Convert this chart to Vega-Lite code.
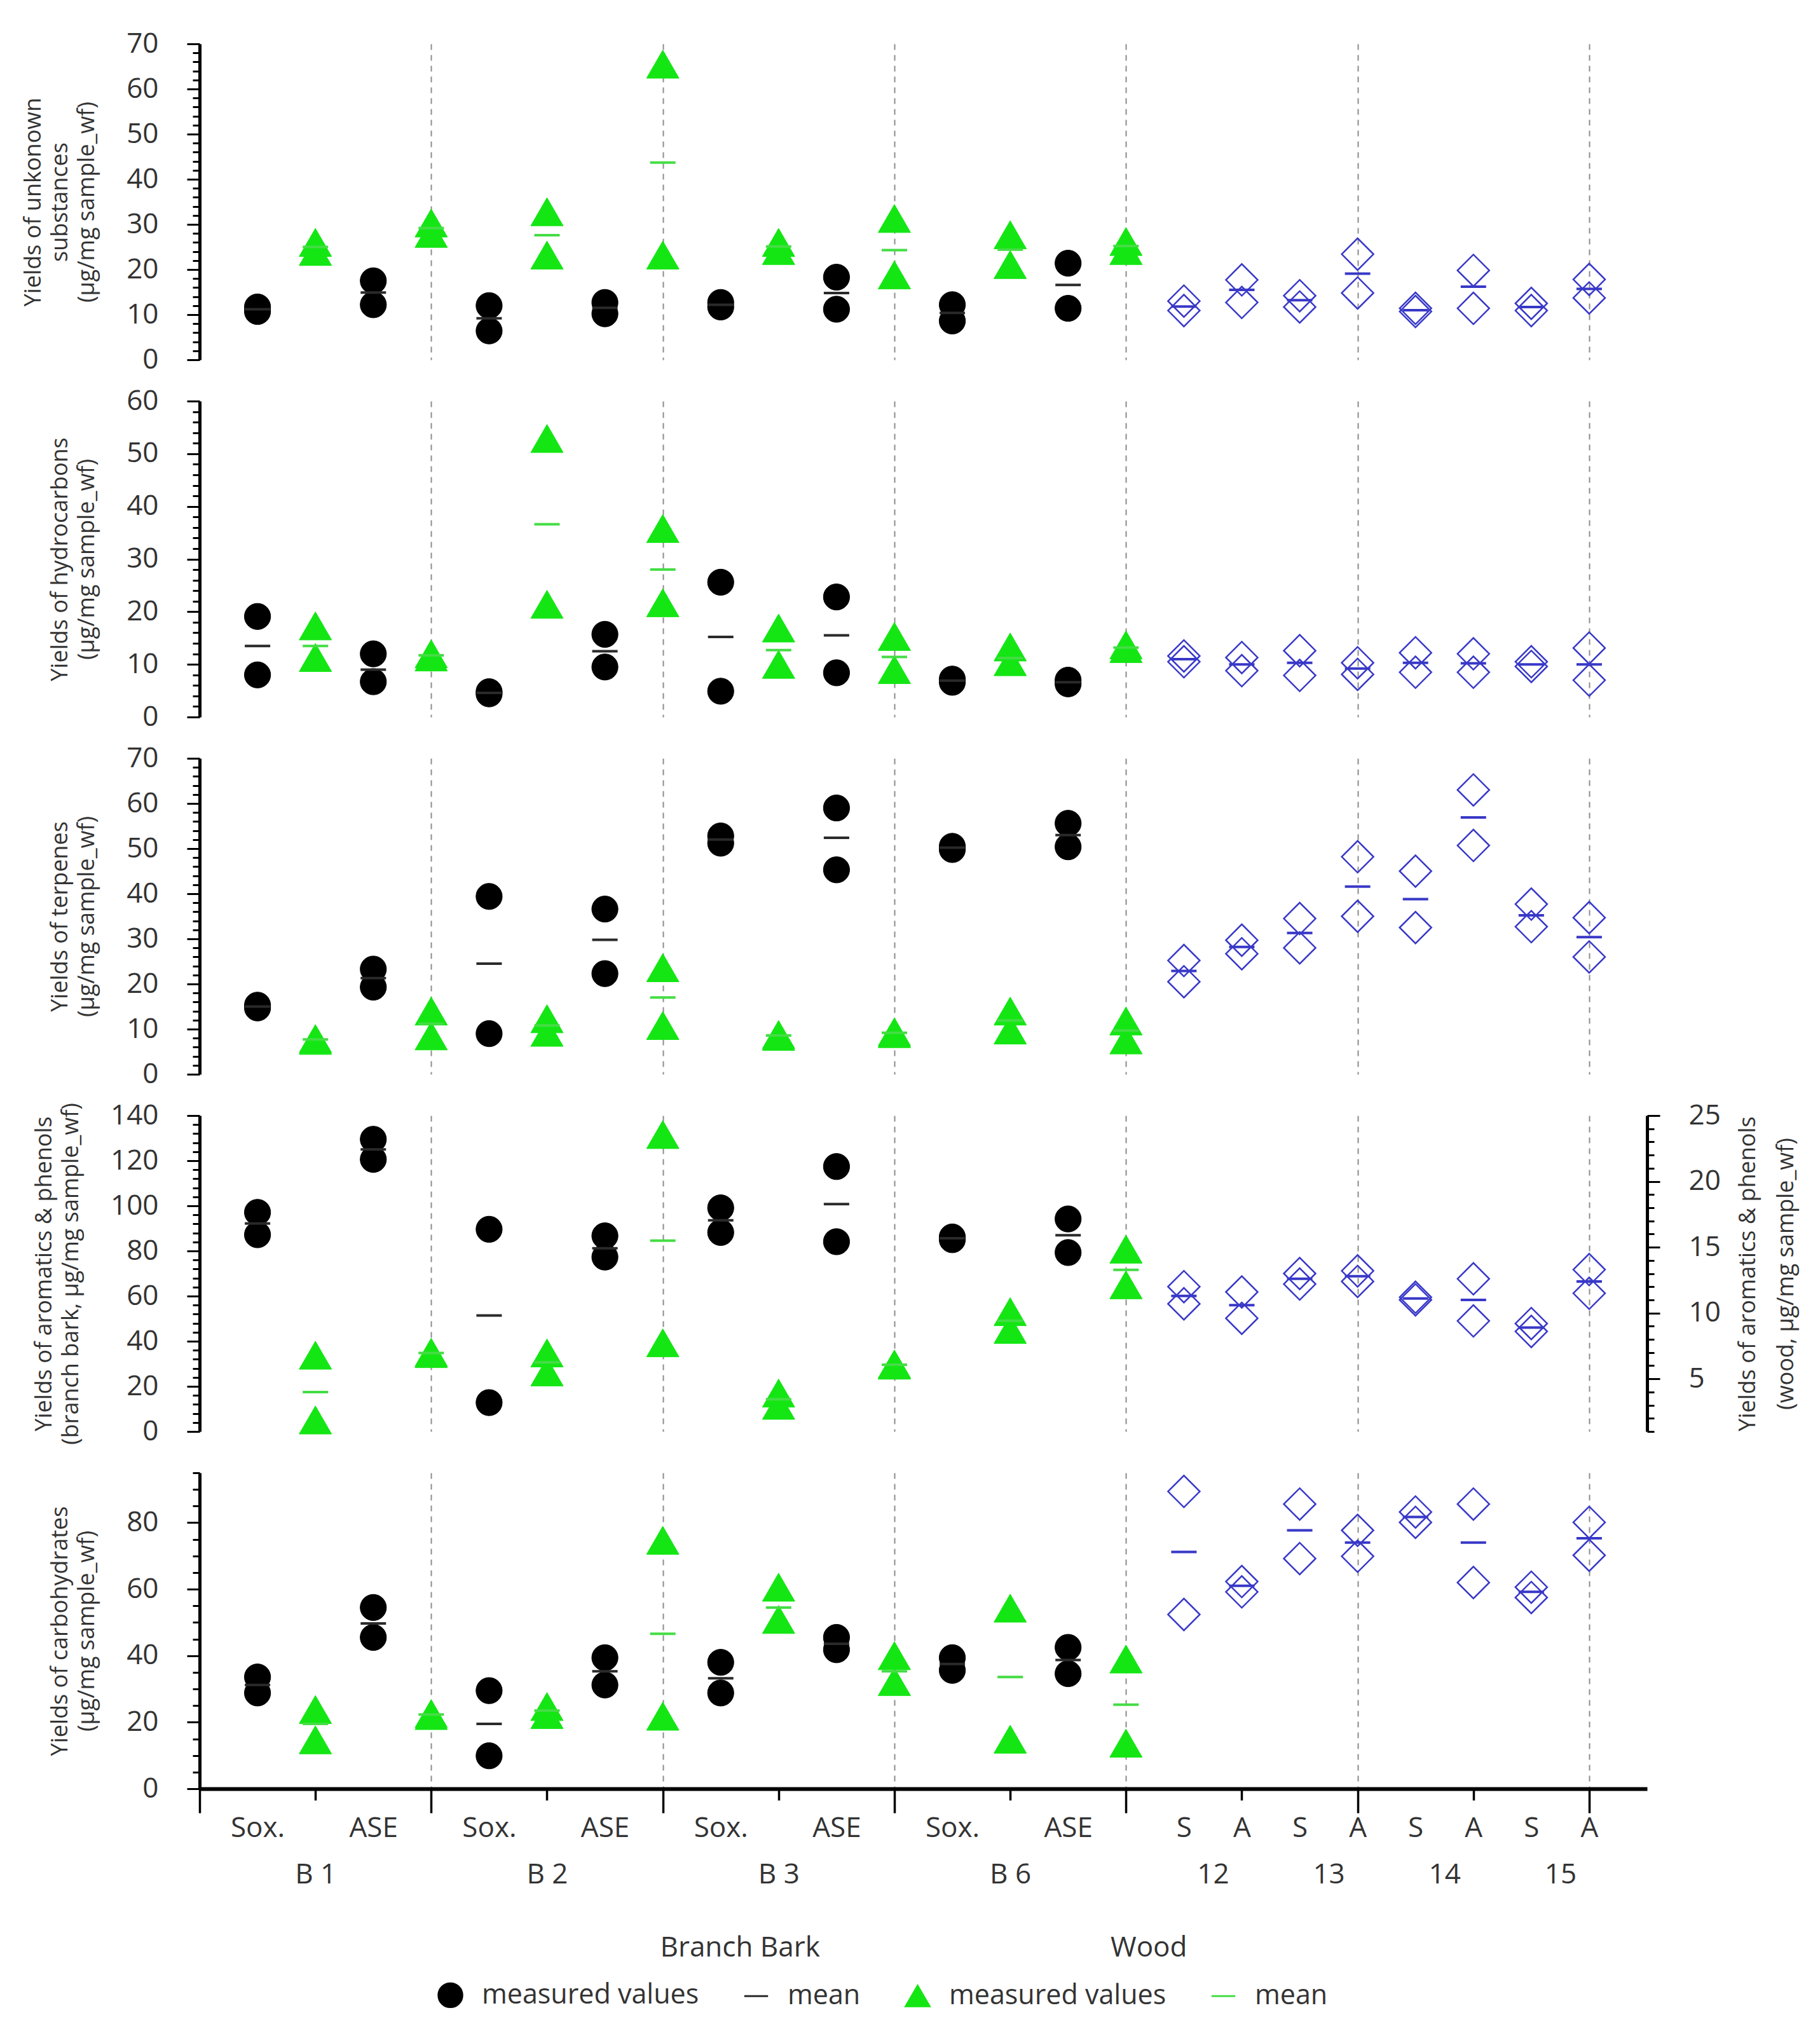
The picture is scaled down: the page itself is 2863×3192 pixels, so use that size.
{
"$schema":"https://vega.github.io/schema/vega-lite/v6.json",
"background":"#ffffff",
"padding":{"left":34,"top":47,"right":20,"bottom":20},
"bounds":"flush",
"spacing":65,
"data":{"values":[
{"p":"U","x":1,"s":"a","v":11.7},{"p":"U","x":1,"s":"a","v":10.7},{"p":"U","x":1,"s":"b","v":11.2},
{"p":"U","x":2,"s":"c","v":26},{"p":"U","x":2,"s":"c","v":24},{"p":"U","x":2,"s":"d","v":25},
{"p":"U","x":3,"s":"a","v":17.5},{"p":"U","x":3,"s":"a","v":12.2},{"p":"U","x":3,"s":"b","v":14.9},
{"p":"U","x":4,"s":"c","v":30.3},{"p":"U","x":4,"s":"c","v":28},{"p":"U","x":4,"s":"d","v":29.2},
{"p":"U","x":5,"s":"a","v":12},{"p":"U","x":5,"s":"a","v":6.4},{"p":"U","x":5,"s":"b","v":9.2},
{"p":"U","x":6,"s":"c","v":32.8},{"p":"U","x":6,"s":"c","v":23.2},{"p":"U","x":6,"s":"d","v":27.6},
{"p":"U","x":7,"s":"a","v":12.7},{"p":"U","x":7,"s":"a","v":10.2},{"p":"U","x":7,"s":"b","v":11.5},
{"p":"U","x":8,"s":"c","v":65.5},{"p":"U","x":8,"s":"c","v":23.2},{"p":"U","x":8,"s":"d","v":43.7},
{"p":"U","x":9,"s":"a","v":12.7},{"p":"U","x":9,"s":"a","v":11.7},{"p":"U","x":9,"s":"b","v":12.2},
{"p":"U","x":10,"s":"c","v":26},{"p":"U","x":10,"s":"c","v":24.2},{"p":"U","x":10,"s":"d","v":25.1},
{"p":"U","x":11,"s":"a","v":18.3},{"p":"U","x":11,"s":"a","v":11.2},{"p":"U","x":11,"s":"b","v":14.8},
{"p":"U","x":12,"s":"c","v":31.3},{"p":"U","x":12,"s":"c","v":18.8},{"p":"U","x":12,"s":"d","v":24.3},
{"p":"U","x":13,"s":"a","v":12.2},{"p":"U","x":13,"s":"a","v":8.6},{"p":"U","x":13,"s":"b","v":10.4},
{"p":"U","x":14,"s":"c","v":27.7},{"p":"U","x":14,"s":"c","v":21.1},{"p":"U","x":14,"s":"d","v":24.4},
{"p":"U","x":15,"s":"a","v":21.4},{"p":"U","x":15,"s":"a","v":11.4},{"p":"U","x":15,"s":"b","v":16.6},
{"p":"U","x":16,"s":"c","v":26.2},{"p":"U","x":16,"s":"c","v":24.2},{"p":"U","x":16,"s":"d","v":25.2},
{"p":"U","x":17,"s":"w","v":13},{"p":"U","x":17,"s":"w","v":10.9},{"p":"U","x":17,"s":"m","v":11.8},
{"p":"U","x":18,"s":"w","v":17.7},{"p":"U","x":18,"s":"w","v":12.7},{"p":"U","x":18,"s":"m","v":15.5},
{"p":"U","x":19,"s":"w","v":14.2},{"p":"U","x":19,"s":"w","v":11.7},{"p":"U","x":19,"s":"m","v":13.2},
{"p":"U","x":20,"s":"w","v":23.4},{"p":"U","x":20,"s":"w","v":14.8},{"p":"U","x":20,"s":"m","v":19.1},
{"p":"U","x":21,"s":"w","v":11.4},{"p":"U","x":21,"s":"w","v":10.7},{"p":"U","x":21,"s":"m","v":11},
{"p":"U","x":22,"s":"w","v":19.8},{"p":"U","x":22,"s":"w","v":11.4},{"p":"U","x":22,"s":"m","v":16.2},
{"p":"U","x":23,"s":"w","v":12.5},{"p":"U","x":23,"s":"w","v":10.9},{"p":"U","x":23,"s":"m","v":11.7},
{"p":"U","x":24,"s":"w","v":17.8},{"p":"U","x":24,"s":"w","v":13.7},{"p":"U","x":24,"s":"m","v":15.7},

{"p":"H","x":1,"s":"a","v":19.1},{"p":"H","x":1,"s":"a","v":8},{"p":"H","x":1,"s":"b","v":13.5},
{"p":"H","x":2,"s":"c","v":17.3},{"p":"H","x":2,"s":"c","v":11.3},{"p":"H","x":2,"s":"d","v":13.5},
{"p":"H","x":3,"s":"a","v":12},{"p":"H","x":3,"s":"a","v":6.7},{"p":"H","x":3,"s":"b","v":9},
{"p":"H","x":4,"s":"c","v":12},{"p":"H","x":4,"s":"c","v":11.4},{"p":"H","x":4,"s":"d","v":11.7},
{"p":"H","x":5,"s":"a","v":4.8},{"p":"H","x":5,"s":"a","v":4.4},{"p":"H","x":5,"s":"b","v":4.6},
{"p":"H","x":6,"s":"c","v":52.9},{"p":"H","x":6,"s":"c","v":21.4},{"p":"H","x":6,"s":"d","v":36.6},
{"p":"H","x":7,"s":"a","v":15.7},{"p":"H","x":7,"s":"a","v":9.5},{"p":"H","x":7,"s":"b","v":12.5},
{"p":"H","x":8,"s":"c","v":35.8},{"p":"H","x":8,"s":"c","v":21.7},{"p":"H","x":8,"s":"d","v":28},
{"p":"H","x":9,"s":"a","v":25.6},{"p":"H","x":9,"s":"a","v":4.9},{"p":"H","x":9,"s":"b","v":15.2},
{"p":"H","x":10,"s":"c","v":16.9},{"p":"H","x":10,"s":"c","v":10},{"p":"H","x":10,"s":"d","v":12.7},
{"p":"H","x":11,"s":"a","v":22.8},{"p":"H","x":11,"s":"a","v":8.4},{"p":"H","x":11,"s":"b","v":15.5},
{"p":"H","x":12,"s":"c","v":15.3},{"p":"H","x":12,"s":"c","v":9},{"p":"H","x":12,"s":"d","v":11.4},
{"p":"H","x":13,"s":"a","v":7.2},{"p":"H","x":13,"s":"a","v":6.6},{"p":"H","x":13,"s":"b","v":6.9},
{"p":"H","x":14,"s":"c","v":13.3},{"p":"H","x":14,"s":"c","v":10.5},{"p":"H","x":14,"s":"d","v":11.2},
{"p":"H","x":15,"s":"a","v":7},{"p":"H","x":15,"s":"a","v":6.3},{"p":"H","x":15,"s":"b","v":6.6},
{"p":"H","x":16,"s":"c","v":13.7},{"p":"H","x":16,"s":"c","v":13},{"p":"H","x":16,"s":"d","v":13.2},
{"p":"H","x":17,"s":"w","v":11.6},{"p":"H","x":17,"s":"w","v":10.5},{"p":"H","x":17,"s":"m","v":11},
{"p":"H","x":18,"s":"w","v":11.3},{"p":"H","x":18,"s":"w","v":8.8},{"p":"H","x":18,"s":"m","v":10},
{"p":"H","x":19,"s":"w","v":12.6},{"p":"H","x":19,"s":"w","v":7.9},{"p":"H","x":19,"s":"m","v":10.3},
{"p":"H","x":20,"s":"w","v":10.3},{"p":"H","x":20,"s":"w","v":8.1},{"p":"H","x":20,"s":"m","v":9.2},
{"p":"H","x":21,"s":"w","v":12.2},{"p":"H","x":21,"s":"w","v":8.5},{"p":"H","x":21,"s":"m","v":10.3},
{"p":"H","x":22,"s":"w","v":12},{"p":"H","x":22,"s":"w","v":8.5},{"p":"H","x":22,"s":"m","v":10.2},
{"p":"H","x":23,"s":"w","v":10.5},{"p":"H","x":23,"s":"w","v":9.6},{"p":"H","x":23,"s":"m","v":10},
{"p":"H","x":24,"s":"w","v":13.1},{"p":"H","x":24,"s":"w","v":7},{"p":"H","x":24,"s":"m","v":10},

{"p":"T","x":1,"s":"a","v":15.3},{"p":"T","x":1,"s":"a","v":14.7},{"p":"T","x":1,"s":"b","v":15},
{"p":"T","x":2,"s":"c","v":7.9},{"p":"T","x":2,"s":"c","v":7.5},{"p":"T","x":2,"s":"d","v":7.7},
{"p":"T","x":3,"s":"a","v":23.3},{"p":"T","x":3,"s":"a","v":19.3},{"p":"T","x":3,"s":"b","v":21.3},
{"p":"T","x":4,"s":"c","v":14},{"p":"T","x":4,"s":"c","v":8.5},{"p":"T","x":4,"s":"d","v":11.2},
{"p":"T","x":5,"s":"a","v":39.4},{"p":"T","x":5,"s":"a","v":9},{"p":"T","x":5,"s":"b","v":24.5},
{"p":"T","x":6,"s":"c","v":12.3},{"p":"T","x":6,"s":"c","v":9.3},{"p":"T","x":6,"s":"d","v":10.8},
{"p":"T","x":7,"s":"a","v":36.6},{"p":"T","x":7,"s":"a","v":22.3},{"p":"T","x":7,"s":"b","v":29.8},
{"p":"T","x":8,"s":"c","v":23.6},{"p":"T","x":8,"s":"c","v":10.8},{"p":"T","x":8,"s":"d","v":17},
{"p":"T","x":9,"s":"a","v":52.8},{"p":"T","x":9,"s":"a","v":51.2},{"p":"T","x":9,"s":"b","v":52},
{"p":"T","x":10,"s":"c","v":8.8},{"p":"T","x":10,"s":"c","v":8.4},{"p":"T","x":10,"s":"d","v":8.6},
{"p":"T","x":11,"s":"a","v":59},{"p":"T","x":11,"s":"a","v":45.3},{"p":"T","x":11,"s":"b","v":52.4},
{"p":"T","x":12,"s":"c","v":9.4},{"p":"T","x":12,"s":"c","v":9},{"p":"T","x":12,"s":"d","v":9.2},
{"p":"T","x":13,"s":"a","v":50.5},{"p":"T","x":13,"s":"a","v":49.8},{"p":"T","x":13,"s":"b","v":50.2},
{"p":"T","x":14,"s":"c","v":14},{"p":"T","x":14,"s":"c","v":9.8},{"p":"T","x":14,"s":"d","v":11.9},
{"p":"T","x":15,"s":"a","v":55.6},{"p":"T","x":15,"s":"a","v":50.4},{"p":"T","x":15,"s":"b","v":53},
{"p":"T","x":16,"s":"c","v":11.8},{"p":"T","x":16,"s":"c","v":7.6},{"p":"T","x":16,"s":"d","v":9.7},
{"p":"T","x":17,"s":"w","v":25.2},{"p":"T","x":17,"s":"w","v":20.5},{"p":"T","x":17,"s":"m","v":22.9},
{"p":"T","x":18,"s":"w","v":29.7},{"p":"T","x":18,"s":"w","v":26.7},{"p":"T","x":18,"s":"m","v":28.2},
{"p":"T","x":19,"s":"w","v":34.5},{"p":"T","x":19,"s":"w","v":28},{"p":"T","x":19,"s":"m","v":31.3},
{"p":"T","x":20,"s":"w","v":48.2},{"p":"T","x":20,"s":"w","v":35},{"p":"T","x":20,"s":"m","v":41.6},
{"p":"T","x":21,"s":"w","v":45},{"p":"T","x":21,"s":"w","v":32.5},{"p":"T","x":21,"s":"m","v":38.8},
{"p":"T","x":22,"s":"w","v":63},{"p":"T","x":22,"s":"w","v":50.7},{"p":"T","x":22,"s":"m","v":56.9},
{"p":"T","x":23,"s":"w","v":37.7},{"p":"T","x":23,"s":"w","v":32.7},{"p":"T","x":23,"s":"m","v":35.2},
{"p":"T","x":24,"s":"w","v":34.7},{"p":"T","x":24,"s":"w","v":26},{"p":"T","x":24,"s":"m","v":30.4},

{"p":"A","x":1,"s":"a","v":97.1},{"p":"A","x":1,"s":"a","v":87.2},{"p":"A","x":1,"s":"b","v":92.2},
{"p":"A","x":2,"s":"c","v":33.8},{"p":"A","x":2,"s":"c","v":5.1},{"p":"A","x":2,"s":"d","v":17.5},
{"p":"A","x":3,"s":"a","v":129.5},{"p":"A","x":3,"s":"a","v":120.6},{"p":"A","x":3,"s":"b","v":125},
{"p":"A","x":4,"s":"c","v":35.1},{"p":"A","x":4,"s":"c","v":34.5},{"p":"A","x":4,"s":"d","v":34.8},
{"p":"A","x":5,"s":"a","v":89.6},{"p":"A","x":5,"s":"a","v":12.8},{"p":"A","x":5,"s":"b","v":51.4},
{"p":"A","x":6,"s":"c","v":34.8},{"p":"A","x":6,"s":"c","v":26.4},{"p":"A","x":6,"s":"d","v":30.6},
{"p":"A","x":7,"s":"a","v":86.7},{"p":"A","x":7,"s":"a","v":77.3},{"p":"A","x":7,"s":"b","v":81.2},
{"p":"A","x":8,"s":"c","v":131.6},{"p":"A","x":8,"s":"c","v":39.3},{"p":"A","x":8,"s":"d","v":84.6},
{"p":"A","x":9,"s":"a","v":99.1},{"p":"A","x":9,"s":"a","v":88.2},{"p":"A","x":9,"s":"b","v":93.6},
{"p":"A","x":10,"s":"c","v":17},{"p":"A","x":10,"s":"c","v":11.6},{"p":"A","x":10,"s":"d","v":14.3},
{"p":"A","x":11,"s":"a","v":117.4},{"p":"A","x":11,"s":"a","v":84.1},{"p":"A","x":11,"s":"b","v":100.8},
{"p":"A","x":12,"s":"c","v":29.9},{"p":"A","x":12,"s":"c","v":29.4},{"p":"A","x":12,"s":"d","v":29.6},
{"p":"A","x":13,"s":"a","v":86.2},{"p":"A","x":13,"s":"a","v":85},{"p":"A","x":13,"s":"b","v":85.6},
{"p":"A","x":14,"s":"c","v":53.1},{"p":"A","x":14,"s":"c","v":45.2},{"p":"A","x":14,"s":"d","v":49.1},
{"p":"A","x":15,"s":"a","v":94.2},{"p":"A","x":15,"s":"a","v":79.3},{"p":"A","x":15,"s":"b","v":87},
{"p":"A","x":16,"s":"c","v":80.8},{"p":"A","x":16,"s":"c","v":65},{"p":"A","x":16,"s":"d","v":71.6},
{"p":"A","x":17,"s":"w","v":12},{"p":"A","x":17,"s":"w","v":10.7},{"p":"A","x":17,"s":"m","v":11.3},
{"p":"A","x":18,"s":"w","v":11.6},{"p":"A","x":18,"s":"w","v":9.6},{"p":"A","x":18,"s":"m","v":10.6},
{"p":"A","x":19,"s":"w","v":13},{"p":"A","x":19,"s":"w","v":12.2},{"p":"A","x":19,"s":"m","v":12.6},
{"p":"A","x":20,"s":"w","v":13.2},{"p":"A","x":20,"s":"w","v":12.4},{"p":"A","x":20,"s":"m","v":12.8},
{"p":"A","x":21,"s":"w","v":11.2},{"p":"A","x":21,"s":"w","v":11},{"p":"A","x":21,"s":"m","v":11.1},
{"p":"A","x":22,"s":"w","v":12.6},{"p":"A","x":22,"s":"w","v":9.4},{"p":"A","x":22,"s":"m","v":11},
{"p":"A","x":23,"s":"w","v":9.2},{"p":"A","x":23,"s":"w","v":8.6},{"p":"A","x":23,"s":"m","v":8.9},
{"p":"A","x":24,"s":"w","v":13.3},{"p":"A","x":24,"s":"w","v":11.5},{"p":"A","x":24,"s":"m","v":12.4},

{"p":"C","x":1,"s":"a","v":33.6},{"p":"C","x":1,"s":"a","v":28.8},{"p":"C","x":1,"s":"b","v":31.2},
{"p":"C","x":2,"s":"c","v":23.8},{"p":"C","x":2,"s":"c","v":14.7},{"p":"C","x":2,"s":"d","v":19.5},
{"p":"C","x":3,"s":"a","v":54.5},{"p":"C","x":3,"s":"a","v":45.5},{"p":"C","x":3,"s":"b","v":49.7},
{"p":"C","x":4,"s":"c","v":22.6},{"p":"C","x":4,"s":"c","v":22},{"p":"C","x":4,"s":"d","v":22.3},
{"p":"C","x":5,"s":"a","v":29.5},{"p":"C","x":5,"s":"a","v":9.9},{"p":"C","x":5,"s":"b","v":19.5},
{"p":"C","x":6,"s":"c","v":24.7},{"p":"C","x":6,"s":"c","v":22.3},{"p":"C","x":6,"s":"d","v":23.5},
{"p":"C","x":7,"s":"a","v":39.4},{"p":"C","x":7,"s":"a","v":31.2},{"p":"C","x":7,"s":"b","v":35.3},
{"p":"C","x":8,"s":"c","v":74.7},{"p":"C","x":8,"s":"c","v":21.8},{"p":"C","x":8,"s":"d","v":46.6},
{"p":"C","x":9,"s":"a","v":38},{"p":"C","x":9,"s":"a","v":28.8},{"p":"C","x":9,"s":"b","v":33.2},
{"p":"C","x":10,"s":"c","v":60.6},{"p":"C","x":10,"s":"c","v":50.9},{"p":"C","x":10,"s":"d","v":54.5},
{"p":"C","x":11,"s":"a","v":45.5},{"p":"C","x":11,"s":"a","v":41.8},{"p":"C","x":11,"s":"b","v":43.6},
{"p":"C","x":12,"s":"c","v":40},{"p":"C","x":12,"s":"c","v":32.2},{"p":"C","x":12,"s":"d","v":35.3},
{"p":"C","x":13,"s":"a","v":39.4},{"p":"C","x":13,"s":"a","v":35.6},{"p":"C","x":13,"s":"b","v":37.5},
{"p":"C","x":14,"s":"c","v":54.3},{"p":"C","x":14,"s":"c","v":14.9},{"p":"C","x":14,"s":"d","v":33.6},
{"p":"C","x":15,"s":"a","v":42.5},{"p":"C","x":15,"s":"a","v":34.6},{"p":"C","x":15,"s":"b","v":38.7},
{"p":"C","x":16,"s":"c","v":39},{"p":"C","x":16,"s":"c","v":13.7},{"p":"C","x":16,"s":"d","v":25.3},
{"p":"C","x":17,"s":"w","v":89.4},{"p":"C","x":17,"s":"w","v":52.4},{"p":"C","x":17,"s":"m","v":71.2},
{"p":"C","x":18,"s":"w","v":62.3},{"p":"C","x":18,"s":"w","v":59.2},{"p":"C","x":18,"s":"m","v":61},
{"p":"C","x":19,"s":"w","v":85.6},{"p":"C","x":19,"s":"w","v":69.2},{"p":"C","x":19,"s":"m","v":77.7},
{"p":"C","x":20,"s":"w","v":77.7},{"p":"C","x":20,"s":"w","v":69.9},{"p":"C","x":20,"s":"m","v":74},
{"p":"C","x":21,"s":"w","v":83.2},{"p":"C","x":21,"s":"w","v":80.1},{"p":"C","x":21,"s":"m","v":81.7},
{"p":"C","x":22,"s":"w","v":85.6},{"p":"C","x":22,"s":"w","v":62},{"p":"C","x":22,"s":"m","v":74},
{"p":"C","x":23,"s":"w","v":60.6},{"p":"C","x":23,"s":"w","v":57.5},{"p":"C","x":23,"s":"m","v":59.2},
{"p":"C","x":24,"s":"w","v":80.1},{"p":"C","x":24,"s":"w","v":70.2},{"p":"C","x":24,"s":"m","v":75.3}
]},
"vconcat":[
{
 "width":2277,"height":497,
 "transform":[{"filter":"datum.p == 'U'"}],
 "encoding":{
  "x":{"field":"x","type":"quantitative","scale":{"domain":[0,25],"nice":false,"zero":false},"axis":{"values":[4,8,12,16,20,24],"grid":true,"domain":false,"ticks":false,"labels":false,"title":null}},
  "y":{"field":"v","type":"quantitative","scale":{"domain":[0,70],"nice":false,"zero":false},"axis":{"title":["Yields of unkonown","substances","(μg/mg sample_wf)"],"values":[0,2,4,6,8,10,12,14,16,18,20,22,24,26,28,30,32,34,36,38,40,42,44,46,48,50,52,54,56,58,60,62,64,66,68,70],"labelExpr":"datum.value % 10 === 0 ? datum.label : ''","tickSize":{"condition":{"test":"datum.value % 10 === 0","value":20},"value":11}}}
 },
 "layer":[
  {"encoding":{
    "fill":{"field":"s","type":"nominal","scale":{"domain":["a","b","c","d"],"range":["#000000","#2a2a2a","#14e614","#45dd45"]},"legend":{"title":null,"labelExpr":"datum.label == 'b' || datum.label == 'd' ? 'mean' : 'measured values'"}},
    "stroke":{"field":"s","type":"nominal","scale":{"domain":["a","b","c","d"],"range":["#000000","#2a2a2a","#14e614","#45dd45"]},"legend":{"title":null,"labelExpr":"datum.label == 'b' || datum.label == 'd' ? 'mean' : 'measured values'"}},
    "shape":{"field":"s","type":"nominal","scale":{"domain":["a","b","c","d"],"range":["circle","stroke","triangle-up","stroke"]},"legend":{"title":null,"labelExpr":"datum.label == 'b' || datum.label == 'd' ? 'mean' : 'measured values'"}}
   },
   "layer":[
    {"transform":[{"filter":"datum.s == 'a'"}],"mark":{"type":"point","filled":true,"size":1700,"strokeWidth":1,"opacity":1}},
    {"transform":[{"filter":"datum.s == 'c'"}],"mark":{"type":"point","filled":true,"size":2600,"strokeWidth":1,"opacity":1}},
    {"transform":[{"filter":"datum.s == 'b' || datum.s == 'd'"}],"mark":{"type":"point","filled":true,"size":1600,"strokeWidth":4,"opacity":1}}
   ]},
  {"transform":[{"filter":"datum.s == 'w'"}],"mark":{"type":"point","shape":"diamond","filled":false,"size":2500,"strokeWidth":2.5,"color":"#3838c8","opacity":1}},
  {"transform":[{"filter":"datum.s == 'm'"}],"mark":{"type":"point","shape":"stroke","filled":false,"size":1600,"strokeWidth":4,"color":"#3838c8","opacity":1}}
 ]
},
{
 "width":2277,"height":497,
 "transform":[{"filter":"datum.p == 'H'"}],
 "encoding":{
  "x":{"field":"x","type":"quantitative","scale":{"domain":[0,25],"nice":false,"zero":false},"axis":{"values":[4,8,12,16,20,24],"grid":true,"domain":false,"ticks":false,"labels":false,"title":null}},
  "y":{"field":"v","type":"quantitative","scale":{"domain":[0,60],"nice":false,"zero":false},"axis":{"title":["Yields of hydrocarbons","(μg/mg sample_wf)"],"values":[0,2,4,6,8,10,12,14,16,18,20,22,24,26,28,30,32,34,36,38,40,42,44,46,48,50,52,54,56,58,60],"labelExpr":"datum.value % 10 === 0 ? datum.label : ''","tickSize":{"condition":{"test":"datum.value % 10 === 0","value":20},"value":11}}}
 },
 "layer":[
  {"encoding":{
    "fill":{"field":"s","type":"nominal","scale":{"domain":["a","b","c","d"],"range":["#000000","#2a2a2a","#14e614","#45dd45"]},"legend":{"title":null,"labelExpr":"datum.label == 'b' || datum.label == 'd' ? 'mean' : 'measured values'"}},
    "stroke":{"field":"s","type":"nominal","scale":{"domain":["a","b","c","d"],"range":["#000000","#2a2a2a","#14e614","#45dd45"]},"legend":{"title":null,"labelExpr":"datum.label == 'b' || datum.label == 'd' ? 'mean' : 'measured values'"}},
    "shape":{"field":"s","type":"nominal","scale":{"domain":["a","b","c","d"],"range":["circle","stroke","triangle-up","stroke"]},"legend":{"title":null,"labelExpr":"datum.label == 'b' || datum.label == 'd' ? 'mean' : 'measured values'"}}
   },
   "layer":[
    {"transform":[{"filter":"datum.s == 'a'"}],"mark":{"type":"point","filled":true,"size":1700,"strokeWidth":1,"opacity":1}},
    {"transform":[{"filter":"datum.s == 'c'"}],"mark":{"type":"point","filled":true,"size":2600,"strokeWidth":1,"opacity":1}},
    {"transform":[{"filter":"datum.s == 'b' || datum.s == 'd'"}],"mark":{"type":"point","filled":true,"size":1600,"strokeWidth":4,"opacity":1}}
   ]},
  {"transform":[{"filter":"datum.s == 'w'"}],"mark":{"type":"point","shape":"diamond","filled":false,"size":2500,"strokeWidth":2.5,"color":"#3838c8","opacity":1}},
  {"transform":[{"filter":"datum.s == 'm'"}],"mark":{"type":"point","shape":"stroke","filled":false,"size":1600,"strokeWidth":4,"color":"#3838c8","opacity":1}}
 ]
},
{
 "width":2277,"height":497,
 "transform":[{"filter":"datum.p == 'T'"}],
 "encoding":{
  "x":{"field":"x","type":"quantitative","scale":{"domain":[0,25],"nice":false,"zero":false},"axis":{"values":[4,8,12,16,20,24],"grid":true,"domain":false,"ticks":false,"labels":false,"title":null}},
  "y":{"field":"v","type":"quantitative","scale":{"domain":[0,70],"nice":false,"zero":false},"axis":{"title":["Yields of terpenes","(μg/mg sample_wf)"],"values":[0,2,4,6,8,10,12,14,16,18,20,22,24,26,28,30,32,34,36,38,40,42,44,46,48,50,52,54,56,58,60,62,64,66,68,70],"labelExpr":"datum.value % 10 === 0 ? datum.label : ''","tickSize":{"condition":{"test":"datum.value % 10 === 0","value":20},"value":11}}}
 },
 "layer":[
  {"encoding":{
    "fill":{"field":"s","type":"nominal","scale":{"domain":["a","b","c","d"],"range":["#000000","#2a2a2a","#14e614","#45dd45"]},"legend":{"title":null,"labelExpr":"datum.label == 'b' || datum.label == 'd' ? 'mean' : 'measured values'"}},
    "stroke":{"field":"s","type":"nominal","scale":{"domain":["a","b","c","d"],"range":["#000000","#2a2a2a","#14e614","#45dd45"]},"legend":{"title":null,"labelExpr":"datum.label == 'b' || datum.label == 'd' ? 'mean' : 'measured values'"}},
    "shape":{"field":"s","type":"nominal","scale":{"domain":["a","b","c","d"],"range":["circle","stroke","triangle-up","stroke"]},"legend":{"title":null,"labelExpr":"datum.label == 'b' || datum.label == 'd' ? 'mean' : 'measured values'"}}
   },
   "layer":[
    {"transform":[{"filter":"datum.s == 'a'"}],"mark":{"type":"point","filled":true,"size":1700,"strokeWidth":1,"opacity":1}},
    {"transform":[{"filter":"datum.s == 'c'"}],"mark":{"type":"point","filled":true,"size":2600,"strokeWidth":1,"opacity":1}},
    {"transform":[{"filter":"datum.s == 'b' || datum.s == 'd'"}],"mark":{"type":"point","filled":true,"size":1600,"strokeWidth":4,"opacity":1}}
   ]},
  {"transform":[{"filter":"datum.s == 'w'"}],"mark":{"type":"point","shape":"diamond","filled":false,"size":2500,"strokeWidth":2.5,"color":"#3838c8","opacity":1}},
  {"transform":[{"filter":"datum.s == 'm'"}],"mark":{"type":"point","shape":"stroke","filled":false,"size":1600,"strokeWidth":4,"color":"#3838c8","opacity":1}}
 ]
},
{
 "width":2277,"height":497,
 "transform":[{"filter":"datum.p == 'A'"}],
 "encoding":{
  "x":{"field":"x","type":"quantitative","scale":{"domain":[0,25],"nice":false,"zero":false},"axis":{"values":[4,8,12,16,20,24],"grid":true,"domain":false,"ticks":false,"labels":false,"title":null}}
 },
 "layer":[
  {"encoding":{
    "y":{"field":"v","type":"quantitative","scale":{"domain":[0,140],"nice":false,"zero":false},"axis":{"title":["Yields of aromatics & phenols","(branch bark, μg/mg sample_wf)"],"values":[0,4,8,12,16,20,24,28,32,36,40,44,48,52,56,60,64,68,72,76,80,84,88,92,96,100,104,108,112,116,120,124,128,132,136,140],"labelExpr":"datum.value % 20 === 0 ? datum.label : ''","tickSize":{"condition":{"test":"datum.value % 20 === 0","value":20},"value":11}}},
    "fill":{"field":"s","type":"nominal","scale":{"domain":["a","b","c","d"],"range":["#000000","#2a2a2a","#14e614","#45dd45"]},"legend":{"title":null,"labelExpr":"datum.label == 'b' || datum.label == 'd' ? 'mean' : 'measured values'"}},
    "stroke":{"field":"s","type":"nominal","scale":{"domain":["a","b","c","d"],"range":["#000000","#2a2a2a","#14e614","#45dd45"]},"legend":{"title":null,"labelExpr":"datum.label == 'b' || datum.label == 'd' ? 'mean' : 'measured values'"}},
    "shape":{"field":"s","type":"nominal","scale":{"domain":["a","b","c","d"],"range":["circle","stroke","triangle-up","stroke"]},"legend":{"title":null,"labelExpr":"datum.label == 'b' || datum.label == 'd' ? 'mean' : 'measured values'"}}
   },
   "layer":[
    {"transform":[{"filter":"datum.s == 'a'"}],"mark":{"type":"point","filled":true,"size":1700,"strokeWidth":1,"opacity":1}},
    {"transform":[{"filter":"datum.s == 'c'"}],"mark":{"type":"point","filled":true,"size":2600,"strokeWidth":1,"opacity":1}},
    {"transform":[{"filter":"datum.s == 'b' || datum.s == 'd'"}],"mark":{"type":"point","filled":true,"size":1600,"strokeWidth":4,"opacity":1}}
   ]},
  {"encoding":{
    "y":{"field":"v","type":"quantitative","scale":{"domain":[1,25],"nice":false,"zero":false},"axis":{"orient":"right","titleAngle":270,"titleLineHeight":60,"titlePadding":2,"title":["Yields of aromatics & phenols","(wood, μg/mg sample_wf)"],"values":[1,2,3,4,5,6,7,8,9,10,11,12,13,14,15,16,17,18,19,20,21,22,23,24,25],"labelExpr":"datum.value % 5 === 0 ? datum.label : ''","tickSize":{"condition":{"test":"datum.value % 5 === 0","value":20},"value":11}}}
   },
   "layer":[
    {"transform":[{"filter":"datum.s == 'w'"}],"mark":{"type":"point","shape":"diamond","filled":false,"size":2500,"strokeWidth":2.5,"color":"#3838c8","opacity":1}},
    {"transform":[{"filter":"datum.s == 'm'"}],"mark":{"type":"point","shape":"stroke","filled":false,"size":1600,"strokeWidth":4,"color":"#3838c8","opacity":1}}
   ]}
 ],
 "resolve":{"scale":{"y":"independent"}}
},
{
 "width":2277,"height":497,
 "transform":[{"filter":"datum.p == 'C'"}],
 "encoding":{
  "x":{"field":"x","type":"quantitative","scale":{"domain":[0,25],"nice":false,"zero":false},"axis":{
    "values":[0,1,2,3,4,5,6,7,8,9,10,11,12,13,14,15,16,17,17.5,18,19,19.5,20,21,21.5,22,23,23.5,24],
    "grid":true,
    "gridOpacity":{"condition":{"test":"datum.value % 4 === 0 && datum.value > 0","value":1},"value":0},
    "domain":true,"domainWidth":6,"domainColor":"#000000",
    "ticks":true,"tickColor":"#000000","tickWidth":3.5,"tickSize":38,
    "tickOpacity":{"condition":{"test":"datum.value % 2 === 0","value":1},"value":0},
    "tickDash":{"condition":{"test":"datum.value % 4 === 0","value":[]},"value":[18,100]},
    "labelExpr":"(datum.value == 1 || datum.value == 5 || datum.value == 9 || datum.value == 13) ? 'Sox.' : (datum.value == 3 || datum.value == 7 || datum.value == 11 || datum.value == 15) ? 'ASE' : (datum.value == 17 || datum.value == 19 || datum.value == 21 || datum.value == 23) ? 'S' : (datum.value == 18 || datum.value == 20 || datum.value == 22 || datum.value == 24) ? 'A' : datum.value == 2 ? ['\u00a0','B 1'] : datum.value == 6 ? ['\u00a0','B 2'] : datum.value == 10 ? ['\u00a0','B 3'] : datum.value == 14 ? ['\u00a0','B 6'] : datum.value == 17.5 ? ['\u00a0','12'] : datum.value == 19.5 ? ['\u00a0','13'] : datum.value == 21.5 ? ['\u00a0','14'] : datum.value == 23.5 ? ['\u00a0','15'] : ''",
    "labelBaseline":"top","labelLineHeight":73,"labelOverlap":false,"labelFlush":false,"labelBound":false,"labelPadding":2,"labelFontSize":44,
    "title":"Branch Bark\u00a0\u00a0\u00a0\u00a0\u00a0\u00a0\u00a0\u00a0\u00a0\u00a0\u00a0\u00a0\u00a0\u00a0\u00a0\u00a0\u00a0\u00a0\u00a0\u00a0\u00a0\u00a0\u00a0\u00a0\u00a0\u00a0\u00a0\u00a0\u00a0\u00a0\u00a0\u00a0\u00a0\u00a0\u00a0\u00a0\u00a0\u00a0\u00a0\u00a0Wood\u00a0\u00a0",
    "titleFontSize":44,"titleFontWeight":"normal","titlePadding":71}},
  "y":{"field":"v","type":"quantitative","scale":{"domain":[0,95],"nice":false,"zero":false},"axis":{"title":["Yields of carbohydrates","(μg/mg sample_wf)"],"values":[0,5,10,15,20,25,30,35,40,45,50,55,60,65,70,75,80,85,90,95],"labelExpr":"datum.value % 20 === 0 ? datum.label : ''","tickSize":{"condition":{"test":"datum.value % 20 === 0","value":20},"value":11}}}
 },
 "layer":[
  {"encoding":{
    "fill":{"field":"s","type":"nominal","scale":{"domain":["a","b","c","d"],"range":["#000000","#2a2a2a","#14e614","#45dd45"]},"legend":{"title":null,"labelExpr":"datum.label == 'b' || datum.label == 'd' ? 'mean' : 'measured values'"}},
    "stroke":{"field":"s","type":"nominal","scale":{"domain":["a","b","c","d"],"range":["#000000","#2a2a2a","#14e614","#45dd45"]},"legend":{"title":null,"labelExpr":"datum.label == 'b' || datum.label == 'd' ? 'mean' : 'measured values'"}},
    "shape":{"field":"s","type":"nominal","scale":{"domain":["a","b","c","d"],"range":["circle","stroke","triangle-up","stroke"]},"legend":{"title":null,"labelExpr":"datum.label == 'b' || datum.label == 'd' ? 'mean' : 'measured values'"}}
   },
   "layer":[
    {"transform":[{"filter":"datum.s == 'a'"}],"mark":{"type":"point","filled":true,"size":1700,"strokeWidth":1,"opacity":1}},
    {"transform":[{"filter":"datum.s == 'c'"}],"mark":{"type":"point","filled":true,"size":2600,"strokeWidth":1,"opacity":1}},
    {"transform":[{"filter":"datum.s == 'b' || datum.s == 'd'"}],"mark":{"type":"point","filled":true,"size":1600,"strokeWidth":4,"opacity":1}}
   ]},
  {"transform":[{"filter":"datum.s == 'w'"}],"mark":{"type":"point","shape":"diamond","filled":false,"size":2500,"strokeWidth":2.5,"color":"#3838c8","opacity":1}},
  {"transform":[{"filter":"datum.s == 'm'"}],"mark":{"type":"point","shape":"stroke","filled":false,"size":1600,"strokeWidth":4,"color":"#3838c8","opacity":1}}
 ]
}
],
"config":{
 "view":{"stroke":null},
 "font":"Open Sans",
 "axis":{"labelFont":"Open Sans","titleFont":"Open Sans","labelColor":"#333333","titleColor":"#333333","labelFontSize":44,"titleFontSize":36,"titleFontWeight":"normal","titleLineHeight":42,"gridColor":"#8c8c8c","gridDash":[9,8],"gridWidth":2},
 "axisY":{"domainWidth":5,"domainColor":"#000000","tickColor":"#000000","tickWidth":3,"labelPadding":45,"titlePadding":43,"grid":false},
 "legend":{"orient":"none","legendX":373,"legendY":3048,"direction":"horizontal","labelFont":"Open Sans","labelFontSize":43,"labelColor":"#333333","symbolSize":1400,"symbolStrokeWidth":3,"columnPadding":64,"labelOffset":28,"labelLimit":0}
}
}
